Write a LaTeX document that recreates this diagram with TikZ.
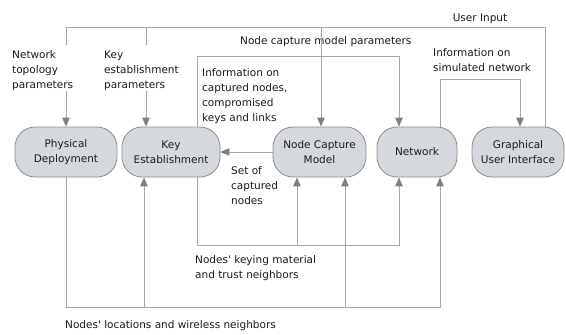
\documentclass[tikz,border=0pt]{standalone}
\usepackage{fontspec}
\setmainfont{DejaVu Sans}
\usetikzlibrary{arrows.meta}
\definecolor{boxfill}{HTML}{D5D9DD}
\definecolor{boxline}{HTML}{8C8C8C}
\definecolor{wire}{HTML}{A6A6A6}
\definecolor{tip}{HTML}{7F7F7F}
\definecolor{ink}{HTML}{1A1A1A}
\begin{document}
\begin{tikzpicture}[x=1pt,y=-1pt,
  every node/.style={font=\fontsize{10.5}{14.5}\selectfont, text=ink},
  block/.style={draw=boxline, fill=boxfill, line width=0.8pt, rounded corners=20pt,
    minimum height=50pt, inner sep=0pt, align=center},
  lbl/.style={anchor=base west, inner sep=0pt, align=left,
    font=\fontsize{10.5}{15}\selectfont},
  wirel/.style={draw=wire, line width=0.9pt},
  arr/.style={wirel, -{Triangle[length=9pt,width=7.5pt,fill=tip,color=tip]}}]
\useasboundingbox (0,0) rectangle (566,335);

% blocks
\node[block, minimum width=102pt] (pd)  at (66,152)    {Physical\\Deployment};
\node[block, minimum width=98pt]  (ke)  at (171,152)   {Key\\Establishment};
\node[block, minimum width=93pt]  (ncm) at (319.5,152) {Node Capture\\Model};
\node[block, minimum width=80pt]  (net) at (417,152)   {Network};
\node[block, minimum width=92pt]  (gui) at (518,152)   {Graphical\\User Interface};

% labels (anchored at the baseline of their last line)
\node[anchor=base] (ui) at (480,21) {User Input};
\node[lbl] (ntp) at (12,88) {Network\\topology\\parameters};
\node[lbl] (kep) at (104,88) {Key\\establishment\\parameters};
\node[lbl] (ncp) at (240,44) {Node capture model parameters};
\node[lbl] (icn) at (202,121) {Information on\\captured nodes,\\compromised\\keys and links};
\node[lbl] (isn) at (433,71) {Information on\\simulated network};
\node[lbl] (scn) at (231,204) {Set of\\captured\\nodes};
\node[lbl] (nkm) at (195,278) {Nodes\textquotesingle{} keying material\\and trust neighbors};
\node[lbl] (nlw) at (65,328) {Nodes\textquotesingle{} locations and wireless neighbors};

% user input distribution
\coordinate (tr) at (545,27);
\draw[wirel] (545,0 |- gui.north) -- (tr) -- (66,27) -- (66,45);
\draw[wirel] (146,27) -- (146,45);
\draw[arr] (66,91) -- (pd.north);
\draw[arr] (146,91) -- (146,0 |- ke.north);
\draw[arr] (321,27) -- (321,0 |- ncm.north);

% key establishment -> network (top)
\draw[arr] (197,0 |- ke.north) -- (197,56) -- (399,56) -- (399,0 |- net.north);
% network -> gui
\draw[arr] (440,0 |- net.north) -- (440,79) -- (520,79) -- (520,0 |- gui.north);
% node capture -> key establishment
\draw[arr] (ncm.west) -- (ke.east);

% key establishment bottom
\draw[arr] (197,0 |- ke.south) -- (197,245) -- (399,245) -- (399,0 |- net.south);
\draw[arr] (297,245) -- (297,0 |- ncm.south);

% physical deployment bottom
\draw[arr] (pd.south) -- (66,307) -- (440,307) -- (440,0 |- net.south);
\draw[arr] (144,307) -- (144,0 |- ke.south);
\draw[arr] (345,307) -- (345,0 |- ncm.south);
\end{tikzpicture}
\end{document}
